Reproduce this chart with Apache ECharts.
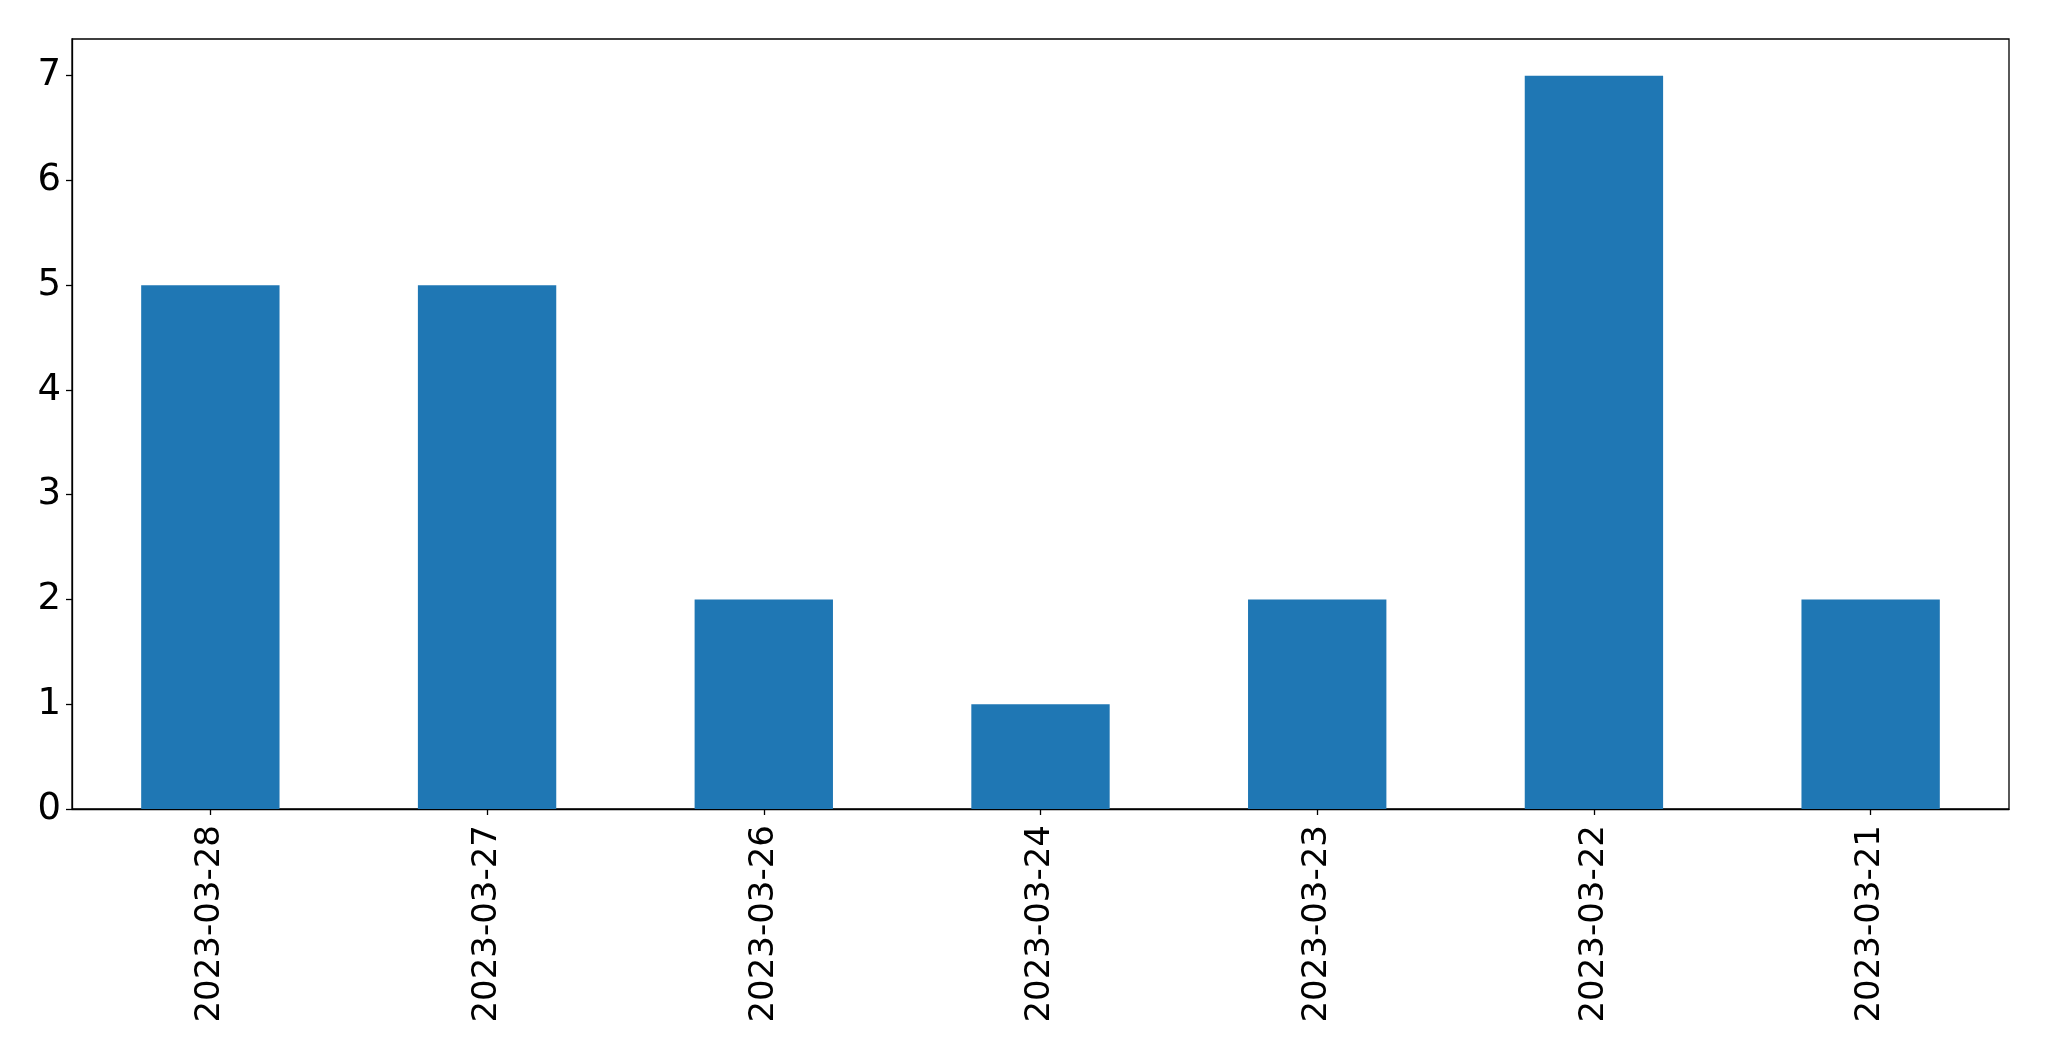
<!DOCTYPE html>
<html>
<head>
<meta charset="utf-8">
<script src="https://cdn.jsdelivr.net/npm/echarts@6/dist/echarts.min.js"></script>
<style>html,body{margin:0;padding:0;background:#fff;}#c{width:2049px;height:1061px;}</style>
</head>
<body>
<div id="c"></div>
<script>
const categories = ['2023-03-28','2023-03-27','2023-03-26','2023-03-24','2023-03-23','2023-03-22','2023-03-21'];
const counts = [5,5,2,1,2,7,2];
const yTicks = [0,1,2,3,4,5,6,7];

const chart = echarts.init(document.getElementById('c'), null, {renderer:'canvas'});
const font = 'DejaVu Sans';
chart.setOption({
  animation:false,
  backgroundColor:'#ffffff',
  grid:{left:72, top:39, right:40, bottom:252, show:true, borderColor:'#000', borderWidth:1.3, containLabel:false},
  xAxis:{
    type:'category', data:categories, boundaryGap:true,
    axisLine:{show:true, lineStyle:{color:'#000', width:1.3}},
    axisTick:{show:true, alignWithLabel:true, length:6, lineStyle:{color:'#000', width:1.3}},
    axisLabel:{rotate:90, margin:16, fontSize:34, fontFamily:font, color:'#000', interval:0},
    splitLine:{show:false}
  },
  yAxis:{
    type:'value', min:0, max:7.35, interval:1,
    axisLine:{show:true, lineStyle:{color:'#000', width:1.3}},
    axisTick:{show:true, length:6, customValues:yTicks, lineStyle:{color:'#000', width:1.3}},
    axisLabel:{margin:11, fontSize:37, fontFamily:font, color:'#000', customValues:yTicks,
      formatter:function(v){ return yTicks.indexOf(v) >= 0 ? String(v) : ''; }},
    splitLine:{show:false}
  },
  series:[{type:'bar', data:counts, barWidth:'50%', itemStyle:{color:'#1f77b4'}}]
});
</script>
</body>
</html>
